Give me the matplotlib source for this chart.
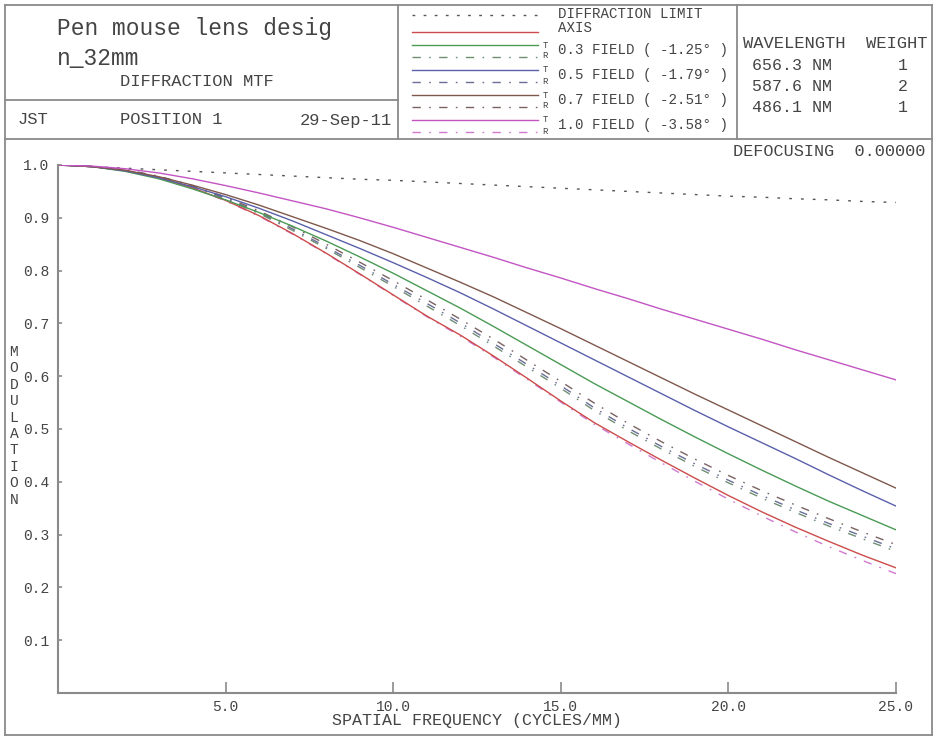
import matplotlib
matplotlib.use("Agg")
import matplotlib.pyplot as plt

plt.rcParams['font.family'] = ['Liberation Mono', 'DejaVu Sans Mono']

# spatial frequency (cycles/mm)
freq = [0, 1, 2, 3, 4, 5, 6, 7, 8, 9, 10, 11, 12, 13, 14, 15, 16, 17, 18, 19, 20, 21, 22, 23, 24, 25]

# modulation
diff_limit = [1.0, .997, .994, .991, .988, .985, .982, .979, .976, .973, .971, .968, .965, .962, .959, .956, .953, .950, .947, .944, .941, .939, .936, .934, .931, .929]
axis_mtf = [1.0, .997, .990, .976, .957, .933, .904, .870, .833, .794, .754, .714, .678, .638, .596, .553, .512, .476, .441, .407, .374, .343, .314, .287, .261, .237]
f03_t = [1.0, .997, .988, .974, .955, .934, .910, .884, .856, .826, .795, .762, .729, .694, .658, .622, .586, .552, .518, .485, .453, .422, .392, .363, .336, .309]
f03_r = [1.0, .997, .990, .977, .959, .935, .908, .876, .842, .806, .770, .733, .696, .657, .617, .577, .535, .497, .462, .429, .398, .369, .342, .316, .292, .268]
f05_t = [1.0, .997, .989, .976, .959, .940, .918, .894, .868, .842, .815, .787, .758, .727, .695, .663, .631, .599, .567, .535, .504, .474, .444, .413, .383, .354]
f05_r = [1.0, .997, .991, .978, .960, .937, .910, .879, .845, .810, .774, .738, .701, .662, .622, .582, .540, .502, .467, .434, .403, .374, .347, .321, .297, .273]
f07_t = [1.0, .997, .990, .978, .962, .944, .924, .902, .880, .857, .832, .805, .778, .750, .720, .690, .659, .628, .597, .566, .536, .506, .476, .446, .417, .388]
f07_r = [1.0, .997, .991, .979, .961, .939, .913, .883, .850, .816, .781, .745, .708, .670, .630, .590, .549, .511, .476, .443, .412, .383, .356, .330, .305, .281]
f10_t = [1.0, .998, .993, .985, .974, .961, .947, .932, .917, .900, .882, .863, .844, .825, .805, .786, .766, .747, .727, .708, .689, .670, .650, .631, .612, .593]
f10_r = [1.0, .997, .990, .976, .957, .932, .903, .869, .832, .793, .753, .713, .676, .636, .594, .551, .509, .472, .436, .401, .367, .335, .305, .277, .251, .226]

field_labels = ["0.3 FIELD ( -1.25\u00b0 )", "0.5 FIELD ( -1.79\u00b0 )",
                "0.7 FIELD ( -2.51\u00b0 )", "1.0 FIELD ( -3.58\u00b0 )"]
wavelengths = ["656.3 NM", "587.6 NM", "486.1 NM"]
weights = ["1", "2", "1"]
yticks = [0.1, 0.2, 0.3, 0.4, 0.5, 0.6, 0.7, 0.8, 0.9, 1.0]
xticks = [5.0, 10.0, 15.0, 20.0, 25.0]

W, H = 937, 740
fig = plt.figure(figsize=(W / 100, H / 100), dpi=100)

# colours
c_dot = "#555555"
c_red = "#cc4b4b"
t_cols = ["#4a9a55", "#5a60aa", "#80584c", "#c355c3"]
r_cols = ["#6f8f74", "#6a6e96", "#7a6262", "#cf7acf"]
frame = "#8a8a8a"
txt = "#444444"
dashdot = (0, (6, 6, 1.2, 6))

# background axes in pixel coords for the frame, header and legend
bg = fig.add_axes([0, 0, 1, 1])
bg.set_xlim(0, W)
bg.set_ylim(H, 0)
bg.axis('off')

def hline(x0, x1, y):
    bg.plot([x0, x1], [y, y], color=frame, lw=1.3)

def vline(x, y0, y1):
    bg.plot([x, x], [y0, y1], color=frame, lw=1.3)

# outer frame + header boxes
hline(5, 932, 5)
hline(5, 932, 139)
hline(5, 932, 735)
vline(5, 5, 735)
vline(932, 5, 735)
vline(398, 5, 139)
vline(737, 5, 139)
hline(5, 398, 100)

# title block
bg.text(57, 28, "Pen mouse lens desig", fontsize=16.5, color=txt, va='center')
bg.text(57, 58, "n_32mm", fontsize=16.5, color=txt, va='center')
bg.text(120, 82, "DIFFRACTION MTF", fontsize=12.3, color=txt, va='center')
bg.text(18, 120, "JST", fontsize=12.3, color=txt, va='center')
bg.text(120, 120, "POSITION 1", fontsize=12.3, color=txt, va='center')
bg.text(392, 120, "29-Sep-11", fontsize=12.3, color=txt, va='center', ha='right')

# legend block
lx0, lx1, tx = 412, 538, 558
bg.plot([lx0, lx1], [15, 15], color=c_dot, lw=1.0, linestyle=(0, (2, 6)))
bg.text(tx, 14, "DIFFRACTION LIMIT", fontsize=10.2, color=txt, va='center')
bg.plot([lx0, lx1], [32, 32], color=c_red, lw=1.0)
bg.text(tx, 28, "AXIS", fontsize=10.2, color=txt, va='center')
for i, lab in enumerate(field_labels):
    yt = 45 + 25 * i
    yr = yt + 12
    bg.plot([lx0, lx1], [yt, yt], color=t_cols[i], lw=1.0)
    bg.plot([lx0, lx1], [yr, yr], color=r_cols[i], lw=1.0, linestyle=dashdot)
    bg.text(545, yt, "T", fontsize=6.5, color=txt, va='center', ha='center')
    bg.text(545, yr - 1, "R", fontsize=6.5, color=txt, va='center', ha='center')
    bg.text(tx, yt + 5, lab, fontsize=10.2, color=txt, va='center')

# wavelength block
bg.text(743, 44, "WAVELENGTH", fontsize=12.3, color=txt, va='center')
bg.text(866, 44, "WEIGHT", fontsize=12.3, color=txt, va='center')
for i, (wl, wt) in enumerate(zip(wavelengths, weights)):
    bg.text(752, 65 + 21.5 * i, wl, fontsize=12, color=txt, va='center')
    bg.text(903, 65 + 21.5 * i, wt, fontsize=12, color=txt, va='center', ha='center')

bg.text(925, 151, "DEFOCUSING  0.00000", fontsize=12.2, color=txt, va='center', ha='right')

# vertical axis label, one letter per line
for i, ch in enumerate("MODULATION"):
    bg.text(14, 352 + 16.4 * i, ch, fontsize=10.5, color=txt, va='center', ha='center')

# MTF plot
ax = fig.add_axes([58 / W, (H - 693) / H, (896 - 58) / W, (693 - 165) / H])
ax.patch.set_alpha(0)
ax.plot(freq, diff_limit, color=c_dot, lw=1.0, linestyle=(0, (2, 6.5)))
ax.plot(freq, f03_r, color=r_cols[0], lw=1.0, linestyle=dashdot)
ax.plot(freq, f05_r, color=r_cols[1], lw=1.0, linestyle=dashdot)
ax.plot(freq, f07_r, color=r_cols[2], lw=1.0, linestyle=dashdot)
ax.plot(freq, f10_r, color=r_cols[3], lw=1.0, linestyle=dashdot)
ax.plot(freq, axis_mtf, color=c_red, lw=1.0)
ax.plot(freq, f03_t, color=t_cols[0], lw=1.0)
ax.plot(freq, f05_t, color=t_cols[1], lw=1.0)
ax.plot(freq, f07_t, color=t_cols[2], lw=1.0)
ax.plot(freq, f10_t, color=t_cols[3], lw=1.0)

ax.set_xlim(0, 25)
ax.set_ylim(0, 1.0)
ax.spines['top'].set_visible(False)
ax.spines['right'].set_visible(False)
for s in ('left', 'bottom'):
    ax.spines[s].set_color(frame)
    ax.spines[s].set_linewidth(1.5)
ax.set_xticks(xticks)
ax.set_xticklabels([f"{v:.1f}" for v in xticks])
ax.set_yticks(yticks)
ax.set_yticklabels([f"{v:.1f}" for v in yticks])
ax.tick_params(axis='x', direction='in', length=8, width=1.2, color=frame,
               labelsize=10.5, labelcolor=txt, pad=5)
ax.tick_params(axis='y', direction='in', length=3, width=1.2, color=frame,
               labelsize=10.5, labelcolor=txt, pad=6)
ax.set_xlabel("SPATIAL FREQUENCY (CYCLES/MM)", fontsize=12, color=txt, labelpad=-1)

fig.savefig("out.png", dpi=100)
